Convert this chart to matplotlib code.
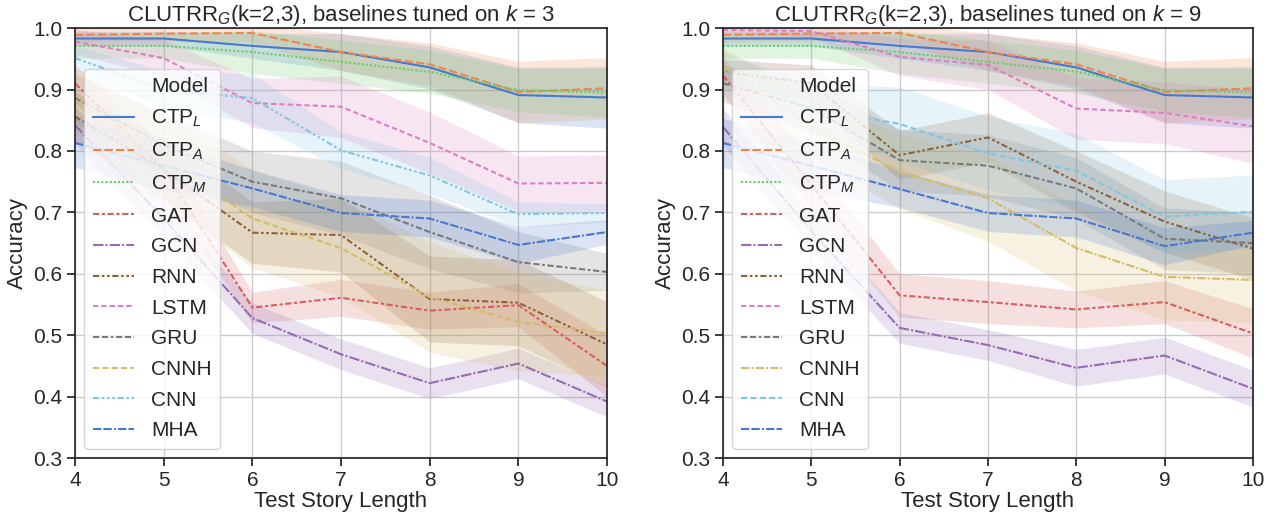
import matplotlib
matplotlib.use("Agg")
import matplotlib.pyplot as plt
from matplotlib.lines import Line2D
import numpy as np

plt.rcParams['font.family'] = ['Liberation Sans', 'DejaVu Sans']
plt.rcParams['mathtext.fontset'] = 'custom'
plt.rcParams['mathtext.rm'] = 'Liberation Sans'
plt.rcParams['mathtext.it'] = 'Liberation Sans:italic'
plt.rcParams['mathtext.bf'] = 'Liberation Sans:bold'

lengths = [4, 5, 6, 7, 8, 9, 10]
models = ["CTP$_L$", "CTP$_A$", "CTP$_M$", "GAT", "GCN", "RNN", "LSTM",
          "GRU", "CNNH", "CNN", "MHA"]
colors = ["#4878d0", "#ee854a", "#6acc64", "#d65f5f", "#956cb4", "#8c613c",
          "#dc7ec0", "#797979", "#d5bb67", "#82c6e2", "#4878d0"]

# ---- shared CTP results ----
ctp_l = [0.983, 0.983, 0.971, 0.961, 0.936, 0.891, 0.887]
ctp_a = [0.989, 0.991, 0.992, 0.961, 0.941, 0.896, 0.902]
ctp_m = [0.971, 0.971, 0.961, 0.945, 0.929, 0.899, 0.895]
ctp_l_err = [0.012, 0.012, 0.02, 0.03, 0.035, 0.045, 0.05]
ctp_a_err = [0.012, 0.012, 0.015, 0.03, 0.035, 0.05, 0.05]
ctp_m_err = [0.02, 0.02, 0.035, 0.035, 0.035, 0.035, 0.04]

# ---- baselines tuned on k=3 ----
gat_k3 = [0.91, 0.77, 0.545, 0.561, 0.540, 0.549, 0.450]
gcn_k3 = [0.842, 0.69, 0.528, 0.469, 0.422, 0.454, 0.392]
rnn_k3 = [0.856, 0.77, 0.667, 0.663, 0.559, 0.553, 0.485]
lstm_k3 = [0.978, 0.951, 0.878, 0.872, 0.813, 0.747, 0.748]
gru_k3 = [0.886, 0.81, 0.75, 0.723, 0.668, 0.619, 0.603]
cnnh_k3 = [0.883, 0.79, 0.69, 0.642, 0.562, 0.522, 0.503]
cnn_k3 = [0.951, 0.90, 0.886, 0.801, 0.760, 0.697, 0.699]
mha_k3 = [0.813, 0.776, 0.739, 0.699, 0.690, 0.647, 0.668]

gat_k3_err = [0.03, 0.04, 0.025, 0.03, 0.03, 0.035, 0.05]
gcn_k3_err = [0.03, 0.03, 0.025, 0.025, 0.025, 0.025, 0.025]
rnn_k3_err = [0.04, 0.05, 0.05, 0.06, 0.07, 0.07, 0.07]
lstm_k3_err = [0.02, 0.03, 0.04, 0.05, 0.05, 0.045, 0.045]
gru_k3_err = [0.04, 0.05, 0.05, 0.06, 0.06, 0.05, 0.03]
cnnh_k3_err = [0.05, 0.07, 0.08, 0.08, 0.09, 0.08, 0.07]
cnn_k3_err = [0.02, 0.03, 0.04, 0.03, 0.03, 0.02, 0.015]
mha_k3_err = [0.04, 0.04, 0.03, 0.03, 0.03, 0.03, 0.02]

# ---- baselines tuned on k=9 ----
gat_k9 = [0.923, 0.745, 0.565, 0.554, 0.542, 0.554, 0.503]
gcn_k9 = [0.839, 0.67, 0.512, 0.484, 0.447, 0.467, 0.413]
rnn_k9 = [0.929, 0.91, 0.793, 0.822, 0.750, 0.685, 0.641]
lstm_k9 = [0.997, 0.995, 0.953, 0.940, 0.869, 0.862, 0.840]
gru_k9 = [0.91, 0.87, 0.785, 0.776, 0.739, 0.657, 0.650]
cnnh_k9 = [0.937, 0.84, 0.766, 0.723, 0.642, 0.595, 0.590]
cnn_k9 = [0.93, 0.87, 0.844, 0.796, 0.768, 0.693, 0.701]
mha_k9 = [0.813, 0.776, 0.738, 0.699, 0.690, 0.645, 0.667]

gat_k9_err = [0.03, 0.04, 0.035, 0.035, 0.03, 0.035, 0.04]
gcn_k9_err = [0.03, 0.03, 0.025, 0.025, 0.03, 0.03, 0.03]
rnn_k9_err = [0.02, 0.03, 0.04, 0.04, 0.05, 0.05, 0.05]
lstm_k9_err = [0.005, 0.01, 0.03, 0.04, 0.05, 0.05, 0.06]
gru_k9_err = [0.03, 0.04, 0.05, 0.05, 0.05, 0.05, 0.05]
cnnh_k9_err = [0.03, 0.05, 0.06, 0.07, 0.07, 0.07, 0.07]
cnn_k9_err = [0.03, 0.04, 0.06, 0.06, 0.06, 0.06, 0.06]
mha_k9_err = [0.04, 0.04, 0.03, 0.03, 0.03, 0.03, 0.02]

panels = [
    (r"CLUTRR$_G$(k=2,3), baselines tuned on $k$ = 3",
     [ctp_l, ctp_a, ctp_m, gat_k3, gcn_k3, rnn_k3, lstm_k3, gru_k3, cnnh_k3, cnn_k3, mha_k3],
     [ctp_l_err, ctp_a_err, ctp_m_err, gat_k3_err, gcn_k3_err, rnn_k3_err, lstm_k3_err,
      gru_k3_err, cnnh_k3_err, cnn_k3_err, mha_k3_err]),
    (r"CLUTRR$_G$(k=2,3), baselines tuned on $k$ = 9",
     [ctp_l, ctp_a, ctp_m, gat_k9, gcn_k9, rnn_k9, lstm_k9, gru_k9, cnnh_k9, cnn_k9, mha_k9],
     [ctp_l_err, ctp_a_err, ctp_m_err, gat_k9_err, gcn_k9_err, rnn_k9_err, lstm_k9_err,
      gru_k9_err, cnnh_k9_err, cnn_k9_err, mha_k9_err]),
]

dashes_left = [None, (4, 1.5), (1, 1), (3, 1.25, 1.5, 1.25), (5, 1, 1, 1),
               (3, 1.25, 1.25, 1.25, 1.25, 1.25), (2.5, 1.5),
               (3, 1.25, 3, 1.25, 1.25, 1.25), (3, 1.5),
               (3, 1.25, 1.25, 1.25, 1.25, 1.25, 1.25, 1.25), (4, 1, 4, 1, 1, 1)]
dashes_right = list(dashes_left)
dashes_right[8] = (4, 1, 1, 1)
dashes_right[9] = (3, 1.5, 3, 1.5)
dash_sets = [dashes_left, dashes_right]

fig = plt.figure(figsize=(12.78, 5.2), dpi=100)
axes = [fig.add_axes([0.0587, 0.119, 0.4163, 0.827]),
        fig.add_axes([0.5657, 0.119, 0.4147, 0.827])]

text_c = "#262626"
for ax, (title, series, errs), dsh in zip(axes, panels, dash_sets):
    x = np.array(lengths)
    handles = [Line2D([], [], color='none', label='Model')]
    for name, col, y, e, d in zip(models, colors, series, errs, dsh):
        y = np.array(y); e = np.array(e)
        ax.fill_between(x, y - e, y + e, color=col, alpha=0.2, linewidth=0)
        ln, = ax.plot(x, y, color=col, lw=1.5, label=name)
        if d is not None:
            ln.set_dashes(d)
        handles.append(ln)
    ax.set_xlim(4, 10)
    ax.set_ylim(0.3, 1.0)
    ax.set_xticks(lengths)
    ax.set_yticks([0.3, 0.4, 0.5, 0.6, 0.7, 0.8, 0.9, 1.0])
    ax.set_yticklabels(["0.3", "0.4", "0.5", "0.6", "0.7", "0.8", "0.9", "1.0"])
    ax.grid(True, color="#cccccc", lw=1.0)
    ax.set_axisbelow(True)
    for s in ax.spines.values():
        s.set_color(text_c)
        s.set_linewidth(1.25)
    ax.tick_params(axis='both', labelsize=15, colors=text_c, length=6, width=1.25,
                   direction='out', pad=3)
    ax.set_xlabel("Test Story Length", fontsize=16, color=text_c, labelpad=1)
    ax.set_ylabel("Accuracy", fontsize=16, color=text_c, labelpad=4)
    ax.set_title(title, fontsize=16, color=text_c, pad=3)
    leg = ax.legend(handles=handles, loc='lower left', fontsize=15,
                    handlelength=2.0, framealpha=0.8, edgecolor="#cccccc",
                    borderaxespad=0.45, labelspacing=0.56)
    for t in leg.get_texts():
        t.set_color(text_c)

fig.savefig("out.png", dpi=100)
